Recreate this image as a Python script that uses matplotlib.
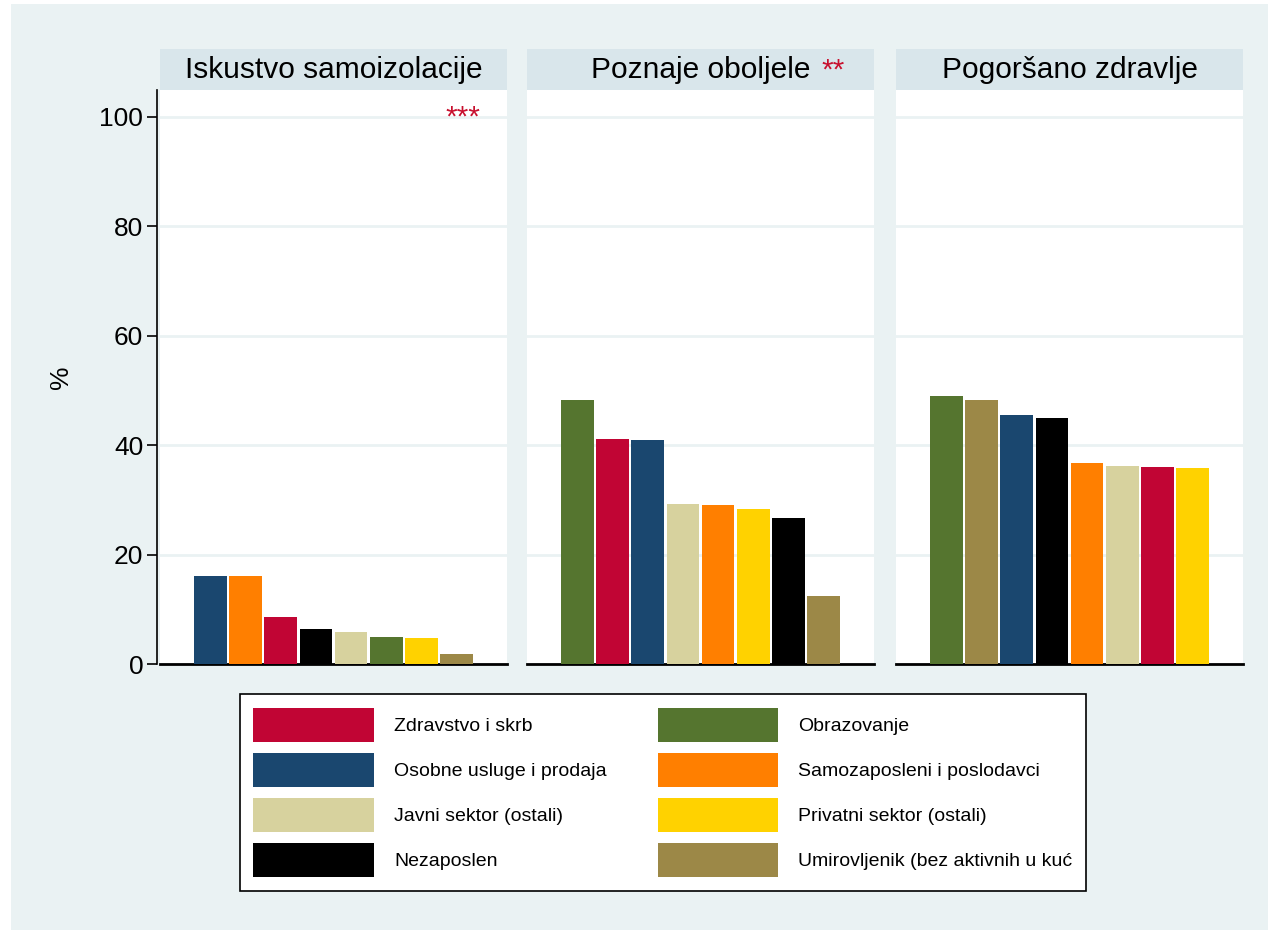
import numpy as np
import matplotlib.pyplot as plt

plt.rcParams['font.family'] = ['Liberation Sans', 'DejaVu Sans']

categories = ["Zdravstvo i skrb", "Osobne usluge i prodaja", "Javni sektor (ostali)",
              "Nezaposlen", "Obrazovanje", "Samozaposleni i poslodavci",
              "Privatni sektor (ostali)", "Umirovljenik (bez aktivnih u kuć"]
colors = ["#C10534", "#1A476F", "#D7D29E", "#000000",
          "#55752F", "#FF7F00", "#FFD200", "#9C8847"]

panel_titles = ["Iskustvo samoizolacije", "Poznaje oboljele", "Pogoršano zdravlje"]
panel_stars = ["***", "**", ""]

# values in category order
samoizolacija = [8.6, 16.1, 5.8, 6.4, 5.0, 16.1, 4.8, 1.9]
poznaje = [41.1, 40.9, 29.2, 26.7, 48.2, 29.0, 28.3, 12.4]
zdravlje = [36.0, 45.5, 36.2, 44.9, 49.0, 36.7, 35.9, 48.3]
panel_values = [samoizolacija, poznaje, zdravlje]

bg = "#EAF2F3"
strip = "#D9E6EB"
star_red = "#C8102E"

W, H = 1268, 930
fig = plt.figure(figsize=(W / 100, H / 100), dpi=100, facecolor="white")
fig.patches.append(plt.Rectangle((11 / W, 0), 1, 1 - 4 / H, transform=fig.transFigure,
                                 facecolor=bg, edgecolor="none", zorder=-10))

lefts = [160, 527, 896]
pw = 347
top, bottom = 90, 664

for i, (left, vals) in enumerate(zip(lefts, panel_values)):
    ax = fig.add_axes([left / W, 1 - bottom / H, pw / W, (bottom - top) / H])
    vals = np.array(vals)
    order = np.argsort(-vals, kind="stable")
    x = np.arange(len(order))
    ax.bar(x, vals[order], width=0.94, color=[colors[k] for k in order],
           edgecolor="none", zorder=3)
    ax.set_xlim(-1.45, 8.45)
    ax.set_ylim(0, 104.9)
    ax.set_xticks([])
    ax.set_yticks(np.arange(0, 101, 20))
    ax.grid(axis="y", color=bg, linewidth=2, zorder=0)
    for s in ["top", "right", "left"]:
        ax.spines[s].set_visible(False)
    ax.spines["bottom"].set_linewidth(2)
    if i == 0:
        ax.spines["left"].set_visible(True)
        ax.spines["left"].set_linewidth(1.2)
        ax.spines["left"].set_position(("outward", 2))
        ax.tick_params(axis="y", labelsize=19, length=7, width=1.2, pad=3)
        ax.set_ylabel("%", fontsize=19, labelpad=19)
    else:
        ax.tick_params(axis="y", left=False, labelleft=False)

    # title strip
    sax = fig.add_axes([left / W, 1 - top / H, pw / W, (top - 49) / H])
    sax.set_facecolor(strip)
    sax.set_xticks([])
    sax.set_yticks([])
    for s in sax.spines.values():
        s.set_visible(False)
    t = sax.text(0.5, 0.48, panel_titles[i], ha="center", va="center",
                 fontsize=21.5, transform=sax.transAxes)
    if i == 1:
        sax.annotate(panel_stars[i], xy=(1, 0.5), xycoords=t, xytext=(8, 0),
                     textcoords="offset points", ha="left", va="center",
                     fontsize=21.5, color=star_red)
    if i == 0:
        ax.text(0.922, 99.8, panel_stars[i], ha="right", va="center",
                fontsize=21.5, color=star_red, transform=ax.get_yaxis_transform())

handles = [plt.Rectangle((0, 0), 1, 1, facecolor=c, edgecolor="none") for c in colors]
leg = fig.legend(handles, categories, ncol=2, loc="center",
                 bbox_to_anchor=((238 + 1088) / 2 / W, 1 - (695 + 890) / 2 / H),
                 fontsize=14, handlelength=6.2, handleheight=2.32,
                 labelspacing=0.57, handletextpad=1.03, columnspacing=2.63,
                 borderpad=0.7, fancybox=False, framealpha=1, edgecolor="black")
leg.get_frame().set_linewidth(1.2)

fig.savefig("out.png", dpi=100, facecolor=fig.get_facecolor())
